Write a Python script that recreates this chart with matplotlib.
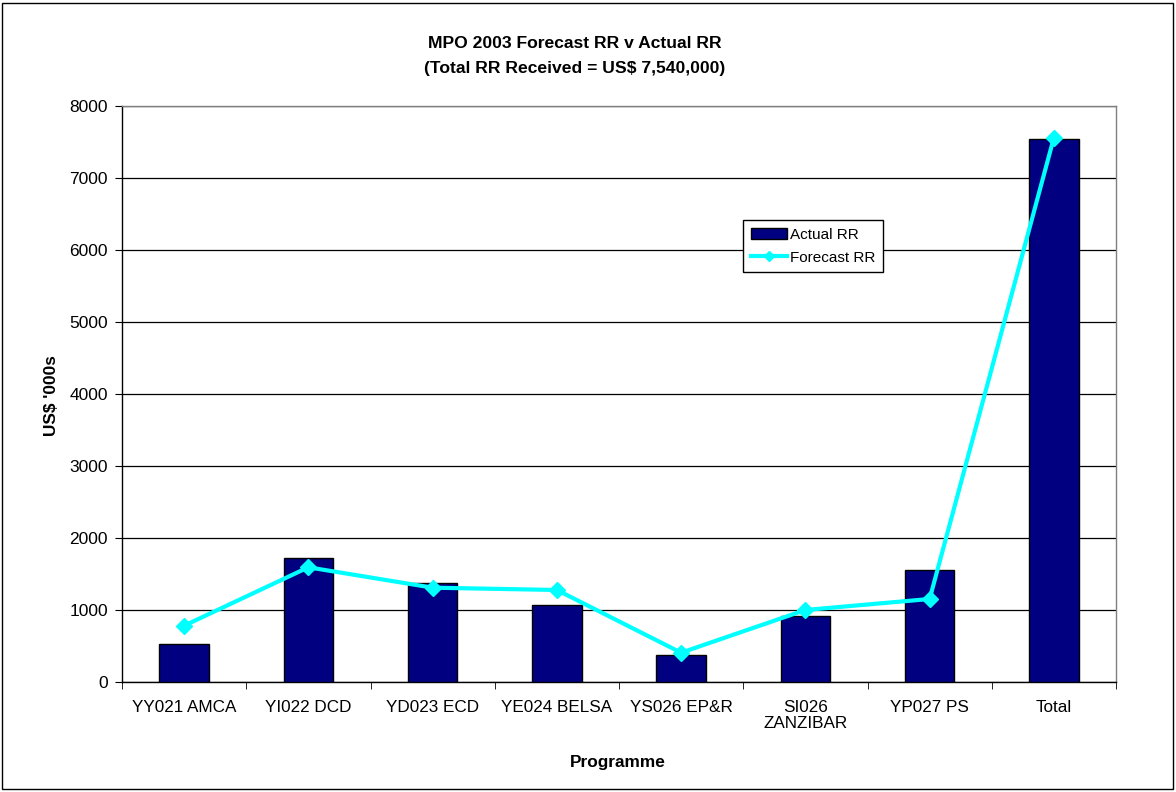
import matplotlib
matplotlib.use("Agg")
import matplotlib.pyplot as plt
from matplotlib.patches import Rectangle
import numpy as np

plt.rcParams['font.family'] = ['Liberation Sans', 'DejaVu Sans']

categories = ["YY021 AMCA", "YI022 DCD", "YD023 ECD", "YE024 BELSA",
              "YS026 EP&R", "SI026\nZANZIBAR", "YP027 PS", "Total"]
actual_rr = [528, 1718, 1370, 1065, 371, 912, 1560, 7540]
forecast_rr = [782, 1593, 1310, 1278, 407, 1000, 1153, 7560]
y_ticks = [0, 1000, 2000, 3000, 4000, 5000, 6000, 7000, 8000]

W, H = 1176, 792
fig = plt.figure(figsize=(W / 100, H / 100), dpi=100)
fig.patch.set_facecolor("white")

# outer chart border
fig.add_artist(Rectangle((2 / W, 3 / H), 1171 / W, 786 / H, transform=fig.transFigure,
                         fill=False, edgecolor="black", linewidth=1.0))

left, right, top, bottom = 122, 1116, 106, 682
ax = fig.add_axes([left / W, (H - bottom) / H, (right - left) / W, (bottom - top) / H])

x = np.arange(len(categories))
ax.bar(x, actual_rr, width=0.4, color="#000080", edgecolor="black", linewidth=1.0,
       label="Actual RR", zorder=3)
ax.plot(x, forecast_rr, color="#00FFFF", linewidth=3, marker="D", markersize=8,
        label="Forecast RR", zorder=4)

ax.set_xlim(-0.5, len(categories) - 0.5)
ax.set_ylim(0, 8000)
ax.set_yticks(y_ticks)
ax.set_yticklabels([str(v) for v in y_ticks], fontsize=12.5)
ax.yaxis.grid(True, color="black", linewidth=0.9, zorder=0)
ax.set_axisbelow(True)

ax.set_xticks(x)
ax.set_xticklabels(categories, fontsize=12.3, linespacing=1.1)
ax.tick_params(axis="x", which="major", length=0, pad=13)
ax.set_xticks(np.arange(-0.5, len(categories) + 0.5, 1), minor=True)
ax.tick_params(axis="x", which="minor", length=5, direction="out", color="black")
ax.tick_params(axis="y", length=5, direction="out", color="black", pad=5)

for side in ["top", "right"]:
    ax.spines[side].set_color("#808080")
    ax.spines[side].set_linewidth(1.0)
for side in ["left", "bottom"]:
    ax.spines[side].set_color("black")
    ax.spines[side].set_linewidth(1.0)

fig.text(618 / W, 1 - 762 / H, "Programme", ha="center", va="center",
         fontsize=12.4, fontweight="bold")
fig.text(52 / W, 1 - 396 / H, "US$ '000s", ha="center", va="center", rotation=90,
         fontsize=12.4, fontweight="bold")

fig.text(575 / W, 1 - 43 / H, "MPO 2003 Forecast RR v Actual RR", ha="center", va="center",
         fontsize=12.6, fontweight="bold")
fig.text(575 / W, 1 - 68 / H, "(Total RR Received = US$ 7,540,000)", ha="center", va="center",
         fontsize=12.6, fontweight="bold")

handles, labels = ax.get_legend_handles_labels()
order = [labels.index("Actual RR"), labels.index("Forecast RR")]
leg = ax.legend([handles[i] for i in order], [labels[i] for i in order],
                loc="upper left",
                bbox_to_anchor=((743 - left) / (right - left), (bottom - 220) / (bottom - top)),
                fontsize=11, frameon=True, fancybox=False, framealpha=1, edgecolor="black",
                borderpad=0.5, labelspacing=0.6, handlelength=2.4, handletextpad=0.15,
                borderaxespad=0, markerscale=0.7)
leg.get_frame().set_linewidth(1.0)

fig.savefig("out.png", dpi=100, facecolor="white")
